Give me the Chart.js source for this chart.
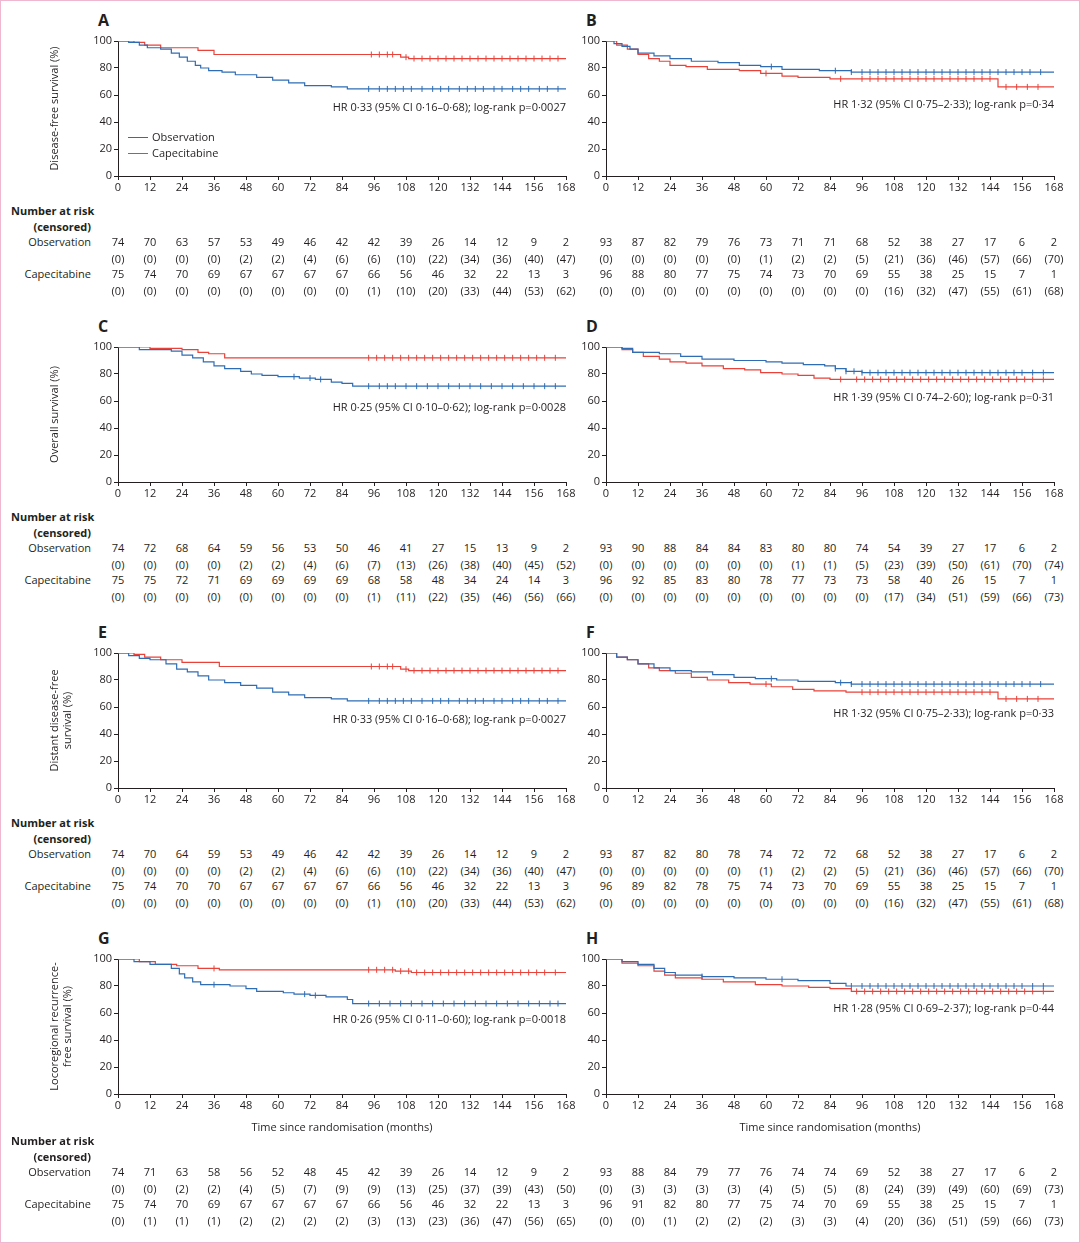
<!DOCTYPE html>
<html>
<head>
<meta charset="UTF-8">
<script src="https://cdn.jsdelivr.net/npm/chart.js"></script>
<style>
  body { margin:0; background:#fff; font-family:'Open Sans', sans-serif; color:#231f20; }
  #page { position:relative; width:1078px; height:1241px; border:1px solid #f0b8d0; overflow:hidden; }
  canvas { position:absolute; }
  .t { position:absolute; font-size:11px; white-space:nowrap; line-height:13px; }
  .c { transform:translateX(-50%); }
  .r { transform:translateX(-100%); }
  .b { font-weight:bold; }
  .lt { position:absolute; font-size:16px; font-weight:bold; }
</style>
</head>
<body>
<div id="page"></div>
<script>
// ---- data ----
const months = [0,12,24,36,48,60,72,84,96,108,120,132,144,156,168];

// Kaplan-Meier steps: [time, survival %]
const aObs = [[0,100],[4,99],[8,97],[11,95],[16,94],[20,91],[23,88],[26,85],[29,82],[31,80],[34,78],[39,77],[44,75],[52,73],[58,71],[64,69],[70,67],[80,66],[86,64.5],[168,64.5]];
const aCap = [[0,100],[6,99],[10,97],[16,95],[30,93],[36,90],[104,90],[106,88],[109,87],[168,87]];
const bObs = [[0,100],[3,98],[6,96],[9,94],[12,91],[18,89],[24,87],[32,85],[42,84],[50,82],[58,81],[66,79],[80,78],[92,77],[168,77]];
const bCap = [[0,100],[4,97],[8,94],[12,90],[16,87],[20,85],[24,82],[30,81],[38,79],[50,78],[58,76],[66,74],[72,73],[84,72],[145,72],[147,66],[168,66]];
const cObs = [[0,100],[8,98],[20,97],[24,94],[28,92],[32,89],[36,86],[40,84],[46,82],[50,80],[54,79],[60,78],[68,77],[74,76],[80,74],[84,73],[88,71],[168,71]];
const cCap = [[0,100],[12,99],[24,98],[30,96],[34,95],[40,92],[168,92]];
const dObs = [[0,100],[6,99],[10,96],[20,95],[28,93],[36,91],[48,90],[60,89],[66,88],[74,87],[82,86],[86,84],[90,82],[96,81],[168,81]];
const dCap = [[0,100],[6,98],[10,96],[14,93],[20,91],[24,89],[30,88],[36,86],[44,84],[52,83],[58,81],[66,80],[72,79],[78,77],[84,76],[168,76]];
const eObs = [[0,100],[4,98],[8,96],[12,95],[18,92],[22,88],[26,86],[30,83],[34,80],[40,78],[46,76],[52,74],[58,71],[64,69],[70,67],[80,66],[86,64.5],[168,64.5]];
const eCap = [[0,100],[6,99],[10,97],[16,95],[24,93],[38,90],[104,90],[106,88],[109,87],[168,87]];
const fObs = [[0,100],[4,97],[8,95],[12,92],[18,89],[24,87],[32,86],[40,84],[48,82],[56,81],[64,80],[72,79],[86,78],[92,77],[168,77]];
const fCap = [[0,100],[4,97],[8,95],[12,92],[16,89],[20,87],[26,85],[32,82],[38,80],[46,78],[54,77],[62,75],[70,73],[78,72],[90,71],[145,71],[147,66],[168,66]];
const gObs = [[0,100],[6,98],[12,96],[20,93],[23,89],[25,86],[28,83],[31,81],[42,80],[48,78],[52,76],[62,75],[66,74],[72,73],[78,72],[86,70],[88,67],[168,67]];
const gCap = [[0,100],[8,98],[14,96],[22,95],[30,93],[38,92],[98,92],[104,91],[110,90],[168,90]];
const hObs = [[0,100],[6,98],[12,96],[18,93],[22,90],[26,88],[36,87],[48,86],[60,85],[72,84],[84,82],[90,80],[168,80]];
const hCap = [[0,100],[6,97],[12,95],[18,91],[22,88],[26,86],[36,85],[44,83],[56,81],[66,80],[76,79],[84,78],[92,76],[168,76]];

// censoring times
const aObsC = [94,98,101,104,107,110,114,118,121,124,128,131,134,137,141,144,148,151,154,158,161,165];
const aCapC = [95,98,101,103,108,111,114,117,120,123,126,129,132,135,138,141,144,147,150,153,156,159,162,165];
const bObsC = [62,86,92,96,99,102,105,108,111,114,117,120,123,126,129,132,135,138,141,144,147,150,153,156,159,163];
const bCapC = [60,88,96,99,102,105,108,111,114,117,120,123,126,129,132,135,138,141,144,150,154,158,162];
const cObsC = [66,72,76,94,98,101,104,108,112,116,120,124,128,132,136,140,144,148,152,156,160,164];
const cCapC = [94,97,100,103,106,109,112,115,118,121,124,127,130,133,136,139,142,145,148,151,154,157,160,164];
const dObsC = [86,90,93,96,99,102,105,108,111,114,117,120,123,126,129,132,135,138,141,144,147,150,153,156,160,164];
const dCapC = [88,94,97,100,103,106,109,112,115,118,121,124,127,130,133,136,139,142,145,148,151,154,157,160,164];
const eObsC = [94,98,101,104,107,110,114,118,121,124,128,131,134,137,141,144,148,151,154,158,161,165];
const eCapC = [95,98,101,103,108,111,114,117,120,123,126,129,132,135,138,141,144,147,150,153,156,159,162,165];
const fObsC = [62,88,92,96,99,102,105,108,111,114,117,120,123,126,129,132,135,138,141,144,147,150,153,156,159,163];
const fCapC = [60,96,99,102,105,108,111,114,117,120,123,126,129,132,135,138,141,144,150,154,158,162];
const gObsC = [36,70,74,94,98,102,106,110,114,118,122,126,130,134,138,142,146,150,154,158,162,165];
const gCapC = [36,94,97,100,103,106,109,112,115,118,121,124,127,130,133,136,139,142,145,148,151,154,157,160,164];
const hObsC = [36,66,92,96,99,102,105,108,111,114,117,120,123,126,129,132,135,138,141,144,147,150,153,156,160,164];
const hCapC = [94,97,100,103,106,109,112,115,118,121,124,127,130,133,136,139,142,145,148,151,154,157,160,164];

// numbers at risk (censored)
const aObsN = [74,70,63,57,53,49,46,42,42,39,26,14,12,9,2], aObsX = [0,0,0,0,2,2,4,6,6,10,22,34,36,40,47];
const aCapN = [75,74,70,69,67,67,67,67,66,56,46,32,22,13,3], aCapX = [0,0,0,0,0,0,0,0,1,10,20,33,44,53,62];
const bObsN = [93,87,82,79,76,73,71,71,68,52,38,27,17,6,2], bObsX = [0,0,0,0,0,1,2,2,5,21,36,46,57,66,70];
const bCapN = [96,88,80,77,75,74,73,70,69,55,38,25,15,7,1], bCapX = [0,0,0,0,0,0,0,0,0,16,32,47,55,61,68];
const cObsN = [74,72,68,64,59,56,53,50,46,41,27,15,13,9,2], cObsX = [0,0,0,0,2,2,4,6,7,13,26,38,40,45,52];
const cCapN = [75,75,72,71,69,69,69,69,68,58,48,34,24,14,3], cCapX = [0,0,0,0,0,0,0,0,1,11,22,35,46,56,66];
const dObsN = [93,90,88,84,84,83,80,80,74,54,39,27,17,6,2], dObsX = [0,0,0,0,0,0,1,1,5,23,39,50,61,70,74];
const dCapN = [96,92,85,83,80,78,77,73,73,58,40,26,15,7,1], dCapX = [0,0,0,0,0,0,0,0,0,17,34,51,59,66,73];
const eObsN = [74,70,64,59,53,49,46,42,42,39,26,14,12,9,2], eObsX = [0,0,0,0,2,2,4,6,6,10,22,34,36,40,47];
const eCapN = [75,74,70,70,67,67,67,67,66,56,46,32,22,13,3], eCapX = [0,0,0,0,0,0,0,0,1,10,20,33,44,53,62];
const fObsN = [93,87,82,80,78,74,72,72,68,52,38,27,17,6,2], fObsX = [0,0,0,0,0,1,2,2,5,21,36,46,57,66,70];
const fCapN = [96,89,82,78,75,74,73,70,69,55,38,25,15,7,1], fCapX = [0,0,0,0,0,0,0,0,0,16,32,47,55,61,68];
const gObsN = [74,71,63,58,56,52,48,45,42,39,26,14,12,9,2], gObsX = [0,0,2,2,4,5,7,9,9,13,25,37,39,43,50];
const gCapN = [75,74,70,69,67,67,67,67,66,56,46,32,22,13,3], gCapX = [0,1,1,1,2,2,2,2,3,13,23,36,47,56,65];
const hObsN = [93,88,84,79,77,76,74,74,69,52,38,27,17,6,2], hObsX = [0,3,3,3,3,4,5,5,8,24,39,49,60,69,73];
const hCapN = [96,91,82,80,77,75,74,70,69,55,38,25,15,7,1], hCapX = [0,0,1,2,2,2,3,3,4,20,36,51,59,66,73];

const BLUE = '#2e6db4', RED = '#e8423b';

const panels = [
  {L:'A', col:0, row:0, yt:'Disease-free survival (%)', obs:aObs, cap:aCap, oc:aObsC, cc:aCapC, on:aObsN, ox:aObsX, cn:aCapN, cx:aCapX, hr:'HR 0·33 (95% CI 0·16–0·68); log-rank p=0·0027', hy:66, legend:true},
  {L:'B', col:1, row:0, obs:bObs, cap:bCap, oc:bObsC, cc:bCapC, on:bObsN, ox:bObsX, cn:bCapN, cx:bCapX, hr:'HR 1·32 (95% CI 0·75–2·33); log-rank p=0·34', hy:63},
  {L:'C', col:0, row:1, yt:'Overall survival (%)', obs:cObs, cap:cCap, oc:cObsC, cc:cCapC, on:cObsN, ox:cObsX, cn:cCapN, cx:cCapX, hr:'HR 0·25 (95% CI 0·10–0·62); log-rank p=0·0028', hy:60},
  {L:'D', col:1, row:1, obs:dObs, cap:dCap, oc:dObsC, cc:dCapC, on:dObsN, ox:dObsX, cn:dCapN, cx:dCapX, hr:'HR 1·39 (95% CI 0·74–2·60); log-rank p=0·31', hy:50},
  {L:'E', col:0, row:2, yt:['Distant disease-free','survival (%)'], obs:eObs, cap:eCap, oc:eObsC, cc:eCapC, on:eObsN, ox:eObsX, cn:eCapN, cx:eCapX, hr:'HR 0·33 (95% CI 0·16–0·68); log-rank p=0·0027', hy:66},
  {L:'F', col:1, row:2, obs:fObs, cap:fCap, oc:fObsC, cc:fCapC, on:fObsN, ox:fObsX, cn:fCapN, cx:fCapX, hr:'HR 1·32 (95% CI 0·75–2·33); log-rank p=0·33', hy:60},
  {L:'G', col:0, row:3, yt:['Locoregional recurrence-','free survival (%)'], obs:gObs, cap:gCap, oc:gObsC, cc:gCapC, on:gObsN, ox:gObsX, cn:gCapN, cx:gCapX, hr:'HR 0·26 (95% CI 0·11–0·60); log-rank p=0·0018', hy:60, xt:true},
  {L:'H', col:1, row:3, obs:hObs, cap:hCap, oc:hObsC, cc:hCapC, on:hObsN, ox:hObsX, cn:hCapN, cx:hCapX, hr:'HR 1·28 (95% CI 0·69–2·37); log-rank p=0·44', hy:49, xt:true}
];

const page = document.getElementById('page');
function text(s, x, y, cls) {
  const d = document.createElement('div');
  d.className = 't ' + (cls || '');
  d.textContent = s;
  d.style.left = x + 'px'; d.style.top = y + 'px';
  page.appendChild(d);
  return d;
}
function stepAt(curve, t) {
  let v = curve[0][1];
  for (const p of curve) { if (p[0] <= t) v = p[1]; }
  return v;
}

panels.forEach(p => {
  const top = 40 + p.row * 306;
  const areaL = p.col ? 605 : 117, areaR = areaL + 448;
  const yw = p.col ? 28 : 70;
  const cl = areaL - yw;
  const xh = p.xt ? 42 : 25;
  const cv = document.createElement('canvas');
  const w = areaR + 12 - cl, h = 10 + 135 + xh;
  cv.width = w; cv.height = h;
  cv.style.left = cl + 'px'; cv.style.top = (top - 10) + 'px';
  page.appendChild(cv);

  const lt = document.createElement('div');
  lt.className = 'lt'; lt.textContent = p.L;
  lt.style.left = (areaL - 20) + 'px'; lt.style.top = (top - 32) + 'px';
  page.appendChild(lt);

  const line = (c, col) => ({ data: c.map(q => ({x:q[0], y:q[1]})), borderColor: col, borderWidth: 1.2, stepped: true, pointRadius: 0, fill: false });
  const cens = (ts, c, col) => ({ data: ts.map(t => ({x:t, y:stepAt(c, t)})), showLine: false, pointStyle: 'line', rotation: 90, pointRadius: 3, borderColor: col, borderWidth: 1 });

  new Chart(cv.getContext('2d'), {
    type: 'line',
    data: { datasets: [line(p.obs, BLUE), line(p.cap, RED), cens(p.oc, p.obs, BLUE), cens(p.cc, p.cap, RED)] },
    options: {
      responsive: false, animation: false,
      layout: { padding: { top: 10, right: 12, left: 0, bottom: 0 } },
      plugins: { legend: { display: false }, tooltip: { enabled: false } },
      scales: {
        x: { type: 'linear', min: 0, max: 168,
             ticks: { stepSize: 12, color: '#231f20', font: { family: 'Open Sans', size: 11 }, padding: 1 },
             grid: { drawOnChartArea: false, color: '#231f20', tickLength: 4 },
             border: { color: '#231f20' },
             title: { display: !!p.xt, text: 'Time since randomisation (months)', color: '#231f20', font: { family: 'Open Sans', size: 11 }, padding: 2 },
             afterFit: s => { s.height = xh; } },
        y: { min: 0, max: 100,
             ticks: { stepSize: 20, color: '#231f20', font: { family: 'Open Sans', size: 11 }, padding: 2 },
             grid: { drawOnChartArea: false, color: '#231f20', tickLength: 4 },
             border: { color: '#231f20' },
             title: { display: !!p.yt, text: p.yt, color: '#231f20', font: { family: 'Open Sans', size: 11 }, padding: 0 },
             afterFit: s => { s.width = yw; } }
      }
    }
  });

  text(p.hr, areaR, top + p.hy - 7, 'r');

  if (p.legend) {
    [['Observation', BLUE, 96], ['Capecitabine', RED, 112]].forEach(([s, col, y]) => {
      const l = document.createElement('div');
      l.style.cssText = `position:absolute;left:127px;top:${top + y}px;width:20px;height:0;border-top:1.3px solid ${col}`;
      page.appendChild(l);
      text(s, 151, top + y - 7);
    });
  }

  const tb = top + 170 + (p.xt ? 12 : 0);
  if (p.col === 0) {
    text('Number at risk', 10, tb - 7, 'b');
    text('(censored)', 90, tb + 9, 'b r');
    text('Observation', 90, tb + 24, 'r');
    text('Capecitabine', 90, tb + 56, 'r');
  }
  months.forEach((m, i) => {
    const x = areaL + m * 448 / 168;
    text(String(p.on[i]), x, tb + 24, 'c');
    text('(' + p.ox[i] + ')', x, tb + 41, 'c');
    text(String(p.cn[i]), x, tb + 56, 'c');
    text('(' + p.cx[i] + ')', x, tb + 73, 'c');
  });
});
</script>
</body>
</html>
